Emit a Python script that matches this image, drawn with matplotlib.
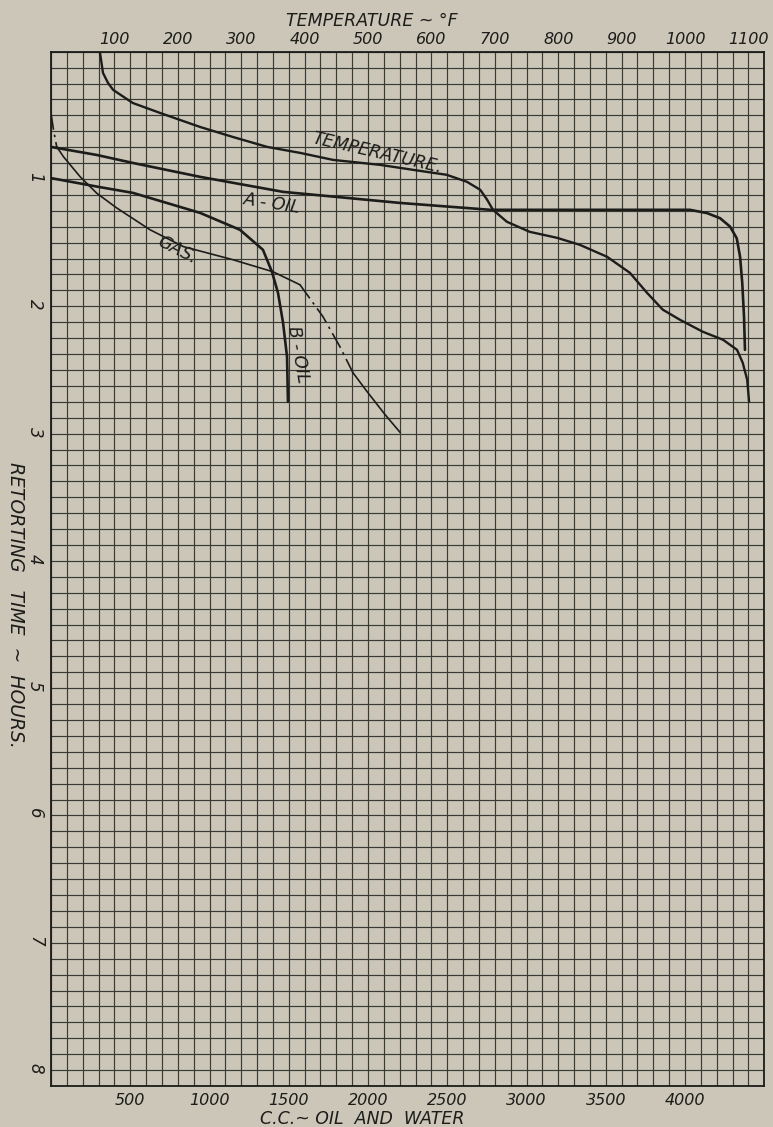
import matplotlib
matplotlib.use('Agg')
import matplotlib.pyplot as plt
from matplotlib.ticker import FixedLocator, MultipleLocator

plt.rcParams['font.family'] = ['DejaVu Sans']
plt.rcParams['font.style'] = 'italic'

paper = '#cbc6b8'
ink = '#1c1c1a'
grid_ink = '#3a3a35'

# temperature (deg F) against retorting time (hours)
temp_f = [77, 79, 82, 90, 98, 129, 172, 235, 287, 341, 393, 445, 519, 571, 624,
          656, 677, 688, 697, 719, 755, 798, 834, 877, 913, 940, 965, 992, 1028,
          1060, 1082, 1091, 1098, 1101]
temp_hr = [0.0, 0.065, 0.167, 0.246, 0.30, 0.403, 0.481, 0.591, 0.67, 0.748,
           0.795, 0.85, 0.889, 0.928, 0.967, 1.022, 1.085, 1.164, 1.242, 1.336,
           1.415, 1.462, 1.517, 1.611, 1.737, 1.894, 2.027, 2.106, 2.2, 2.263,
           2.342, 2.444, 2.577, 2.75]

# A-oil, cc collected
a_cc = [0, 288, 517, 940, 1464, 2202, 2770, 4031, 4139, 4221, 4284, 4326, 4347,
        4361, 4372, 4378]
a_hr = [0.748, 0.811, 0.874, 0.983, 1.101, 1.188, 1.242, 1.242, 1.268, 1.308,
        1.374, 1.465, 1.609, 1.818, 2.08, 2.342]

# B-oil, cc collected
b_cc = [0, 309, 517, 940, 1192, 1337, 1394, 1432, 1464, 1489, 1495]
b_hr = [0.993, 1.064, 1.109, 1.266, 1.399, 1.556, 1.729, 1.894, 2.13, 2.396, 2.749]

# gas
gas_cc = [0, 16, 36, 78, 183, 288, 414, 625, 835, 1150, 1401, 1571, 1716, 1823,
          1905, 1994, 2107, 2202]
gas_hr = [0.484, 0.615, 0.746, 0.824, 0.981, 1.111, 1.227, 1.399, 1.531, 1.635,
          1.729, 1.831, 2.082, 2.318, 2.522, 2.67, 2.85, 2.99]
# stretches of the gas curve drawn dash-dot (start, end index)
gas_dashed = [(0, 2), (11, 14)]
gas_solid = [(2, 11), (14, 17)]

cc_ticks = [500, 1000, 1500, 2000, 2500, 3000, 3500, 4000]
temp_ticks = [100, 200, 300, 400, 500, 600, 700, 800, 900, 1000, 1100]
hr_ticks = [1, 2, 3, 4, 5, 6, 7, 8]

fig = plt.figure(figsize=(7.73, 11.27), dpi=100, facecolor=paper)
ax = fig.add_axes([51 / 773, 1 - 1086 / 1127, 713.3 / 773, 1034.3 / 1127])
ax.set_facecolor(paper)
ax.set_xlim(0, 4500)
ax.set_ylim(8.125, 0)

ax.xaxis.set_major_locator(FixedLocator(cc_ticks))
ax.xaxis.set_minor_locator(MultipleLocator(100))
ax.yaxis.set_major_locator(FixedLocator(hr_ticks))
ax.yaxis.set_minor_locator(MultipleLocator(0.125))
ax.grid(which='both', color=grid_ink, lw=0.85)
ax.set_axisbelow(True)
ax.tick_params(which='both', length=0)
ax.tick_params(axis='x', pad=5, labelsize=11.5, colors=ink)
ax.tick_params(axis='y', pad=5, labelsize=12, labelrotation=-90, colors=ink)
for s in ax.spines.values():
    s.set_color(ink)
    s.set_linewidth(1.3)

ax_t = ax.twiny()
ax_t.set_xlim(0, 1125)
ax_t.set_xticks(temp_ticks)
ax_t.tick_params(length=0, pad=3.5, labelsize=11.5, colors=ink)
for s in ax_t.spines.values():
    s.set_visible(False)

# curves
ax_t.plot(temp_f, temp_hr, color=ink, lw=1.7, solid_capstyle='round')
ax.plot(a_cc, a_hr, color=ink, lw=1.9, solid_capstyle='round')
ax.plot(b_cc, b_hr, color=ink, lw=1.9, solid_capstyle='round')
for i, j in gas_solid:
    ax.plot(gas_cc[i:j + 1], gas_hr[i:j + 1], color=ink, lw=1.2)
for i, j in gas_dashed:
    ax.plot(gas_cc[i:j + 1], gas_hr[i:j + 1], color=ink, lw=1.2,
            linestyle=(0, (10, 3, 1.5, 3)))

# curve names
ax.text(2060, 0.80, 'TEMPERATURE.', rotation=-13, ha='center', va='center',
        fontsize=12.5, color=ink)
ax.text(1394, 1.19, 'A - OIL', rotation=-9, ha='center', va='center',
        fontsize=12.5, color=ink)
ax.text(795, 1.557, 'GAS.', rotation=-27, ha='center', va='center',
        fontsize=12.5, color=ink)
ax.text(1558, 2.377, 'B - OIL', rotation=-80, ha='center', va='center',
        fontsize=12.5, color=ink)

ax.set_xlabel('C.C.~ OIL  AND  WATER', fontsize=12.5, color=ink, va='center')
ax.xaxis.set_label_coords(0.437, -0.032)
ax_t.set_xlabel('TEMPERATURE ~ °F', fontsize=12.5, color=ink, va='center')
ax_t.xaxis.set_label_coords(0.45, 1.0297)
ax.set_ylabel('RETORTING   TIME  ~  HOURS.', fontsize=13.5, color=ink,
              rotation=-90, va='center')
ax.yaxis.set_label_coords(-0.05, 0.465)

fig.savefig('out.png', dpi=100, facecolor=paper)
